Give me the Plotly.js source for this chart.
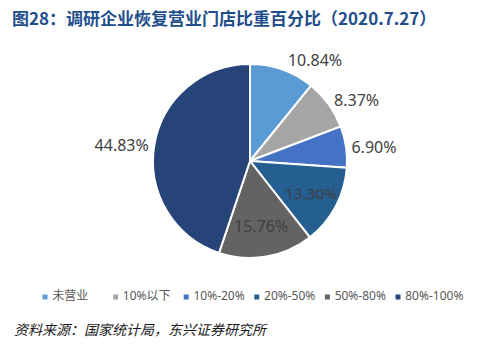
<!DOCTYPE html>
<html>
<head>
<meta charset="utf-8">
<script src="https://cdn.plot.ly/plotly-3.0.1.min.js"></script>
<style>html,body{margin:0;padding:0;background:#fff;}#chart{width:481px;height:351px;}</style>
</head>
<body>
<div id="chart"></div>
<script>
// ---- data ----
const categories = ['未营业', '10%以下', '10%-20%', '20%-50%', '50%-80%', '80%-100%'];
const shares = [10.84, 8.37, 6.90, 13.30, 15.76, 44.83];
const sliceColors = ['#5B9BD5', '#A5A5A5', '#4472C4', '#255E91', '#636363', '#264478'];
const labelPositions = ['outside', 'outside', 'outside', 'inside', 'inside', 'outside'];
const titleText = '图28：调研企业恢复营业门店比重百分比（2020.7.27）';
const sourceText = '资料来源：国家统计局，东兴证券研究所';

const W = 481, H = 351;
const cx = 250, cy = 161, R = 97;

const labelFont = { family: 'Noto Sans, Liberation Sans, sans-serif', size: 16, color: '#404040' };

const pie = {
  type: 'pie',
  labels: categories,
  values: shares,
  sort: false,
  direction: 'clockwise',
  rotation: 0,
  marker: { colors: sliceColors, line: { color: '#ffffff', width: 2 } },
  texttemplate: '%{value:.2f}%',
  textposition: labelPositions,
  insidetextorientation: 'horizontal',
  textfont: labelFont,
  outsidetextfont: labelFont,
  insidetextfont: labelFont,
  domain: { x: [(cx - R) / W, (cx + R) / W], y: [1 - (cy + R) / H, 1 - (cy - R) / H] },
  hoverinfo: 'label+value',
  showlegend: false
};

// legend row drawn as category-axis markers with labels
const legendRow = {
  type: 'scatter',
  mode: 'markers+text',
  x: categories,
  y: categories.map(() => 0),
  text: categories,
  texttemplate: '\u00a0%{text}',
  textposition: 'middle right',
  textfont: { family: 'Noto Sans, Noto Sans CJK SC, sans-serif', size: 12, color: '#595959' },
  marker: { symbol: 'square', size: 5, color: sliceColors },
  xaxis: 'x', yaxis: 'y',
  hoverinfo: 'skip',
  showlegend: false,
  cliponaxis: false
};

const step = 70.6, firstX = 45;
const r0 = -firstX / step;
const layout = {
  width: W, height: H,
  margin: { l: 0, r: 0, t: 0, b: 0 },
  paper_bgcolor: '#ffffff', plot_bgcolor: 'rgba(0,0,0,0)',
  showlegend: false,
  title: {
    text: '<b>' + titleText + '</b>',
    font: { family: 'Noto Sans CJK SC, sans-serif', size: 17, color: '#1F4E8C' },
    x: 12 / W, xanchor: 'left', xref: 'paper',
    y: 1 - 19 / H, yanchor: 'middle', yref: 'paper'
  },
  xaxis: { type: 'category', domain: [0, 1], range: [r0, r0 + W / step], visible: false, fixedrange: true },
  yaxis: { domain: [1 - 305 / H, 1 - 289 / H], range: [-1, 1], visible: false, fixedrange: true },
  annotations: [{
    text: sourceText, xref: 'paper', yref: 'paper',
    x: 12 / W, xanchor: 'left', y: 1 - 329 / H, yanchor: 'middle',
    showarrow: false,
    font: { family: 'Noto Sans CJK SC, sans-serif', size: 14, color: '#1a1a1a', style: 'italic' }
  }]
};

Plotly.newPlot('chart', [pie, legendRow], layout, { displayModeBar: false, staticPlot: true });
</script>
</body>
</html>
